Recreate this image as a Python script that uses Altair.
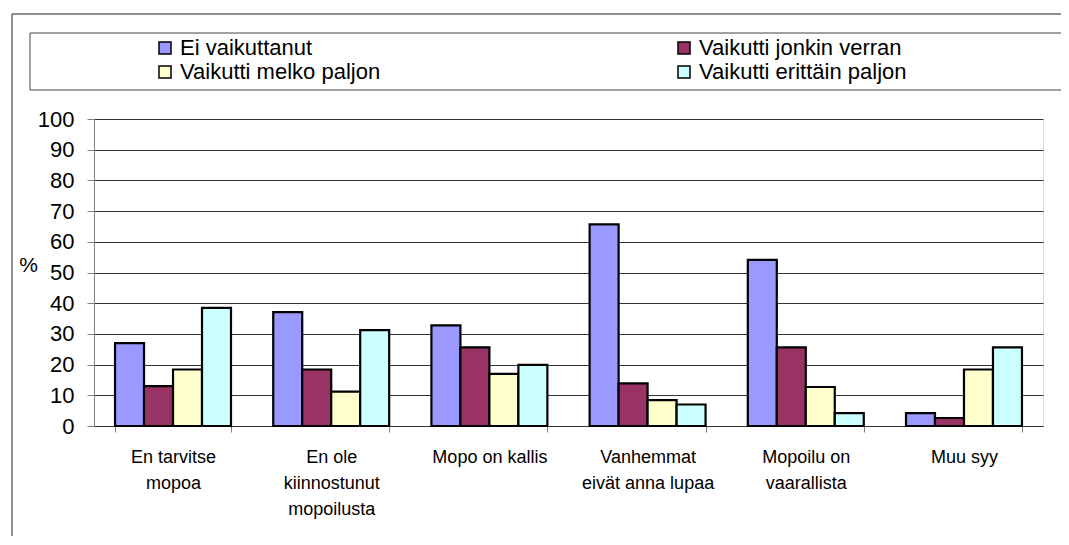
import altair as alt
import pandas as pd

categories = ["En tarvitse|mopoa", "En ole|kiinnostunut|mopoilusta", "Mopo on kallis",
              "Vanhemmat|eivät anna lupaa", "Mopoilu on|vaarallista", "Muu syy"]
series = ["Ei vaikuttanut", "Vaikutti jonkin verran", "Vaikutti melko paljon", "Vaikutti erittäin paljon"]
ei_vaikuttanut = [27.0, 37.1, 32.8, 65.7, 54.1, 4.2]
jonkin_verran = [13.0, 18.4, 25.6, 13.9, 25.6, 2.6]
melko_paljon = [18.4, 11.2, 17.0, 8.4, 12.7, 18.4]
erittain_paljon = [38.5, 31.2, 19.9, 7.0, 4.2, 25.6]
colors = ["#9999FF", "#993366", "#FFFFCC", "#CCFFFF"]

# legend is filled column by column, so order entries to read row by row
legend_order = [series[0], series[2], series[1], series[3]]
legend_colors = [colors[0], colors[2], colors[1], colors[3]]

rows = []
for s, vals in zip(series, [ei_vaikuttanut, jonkin_verran, melko_paljon, erittain_paljon]):
    for c, v in zip(categories, vals):
        rows.append({"cat": c, "series": s, "value": v})
df = pd.DataFrame(rows)
one = pd.DataFrame({"a": [0]})

FONT = "Liberation Sans"

outer = alt.Chart(one).mark_rect(filled=False, stroke="#222222", strokeWidth=1).encode(
    x=alt.value(-82), x2=alt.value(1200), y=alt.value(-105), y2=alt.value(700))
legend_box = alt.Chart(one).mark_rect(filled=False, stroke="#444444", strokeWidth=1).encode(
    x=alt.value(-64), x2=alt.value(1200), y=alt.value(-86), y2=alt.value(-29))

bars = alt.Chart(df).mark_bar(stroke="black", strokeWidth=2.2).encode(
    x=alt.X("cat:N", sort=categories,
            scale=alt.Scale(paddingInner=0.267, paddingOuter=0.133),
            axis=alt.Axis(title=None, labelExpr="split(datum.label, '|')", labelAngle=0,
                          labelFontSize=18, labelFont=FONT, labelColor="black",
                          labelLineHeight=26, labelPadding=16, labelBaseline="top",
                          tickBand="extent", tickSize=6, tickColor="#808080",
                          domainColor="#333333", labelLimit=300)),
    xOffset=alt.XOffset("series:N", sort=series, scale=alt.Scale(paddingInner=0, paddingOuter=0)),
    y=alt.Y("value:Q", scale=alt.Scale(domain=[0, 100], nice=False),
            axis=alt.Axis(values=list(range(0, 101, 10)), title="%", titleAngle=0,
                          titleX=-66, titleY=146, titleFontSize=21, titleFontWeight="normal",
                          titleFont=FONT, titleColor="black", titleAlign="center",
                          titleBaseline="middle",
                          labelFontSize=22, labelFont=FONT, labelColor="black", labelPadding=13,
                          tickSize=7, tickColor="#808080", domainColor="#808080",
                          gridColor="#333333", gridWidth=1)),
    color=alt.Color("series:N", scale=alt.Scale(domain=legend_order, range=legend_colors),
                    legend=alt.Legend(title=None, orient="none", legendX=60, legendY=-82,
                                      columns=2, columnPadding=292, symbolType="square",
                                      symbolSize=144, symbolStrokeColor="black",
                                      symbolStrokeWidth=1.5, labelFontSize=22, labelFont=FONT,
                                      labelColor="black", labelOffset=4, rowPadding=2,
                                      padding=0, labelLimit=500)),
)

chart = alt.layer(outer, legend_box, bars).properties(
    width=949, height=307,
    padding={"left": 86, "top": 111, "right": 18, "bottom": 110},
    autosize=alt.AutoSizeParams(type="none"),
).configure_view(stroke="#808080").configure(font=FONT)

chart.save("out.html", embed_options={"renderer": "svg", "actions": False})
